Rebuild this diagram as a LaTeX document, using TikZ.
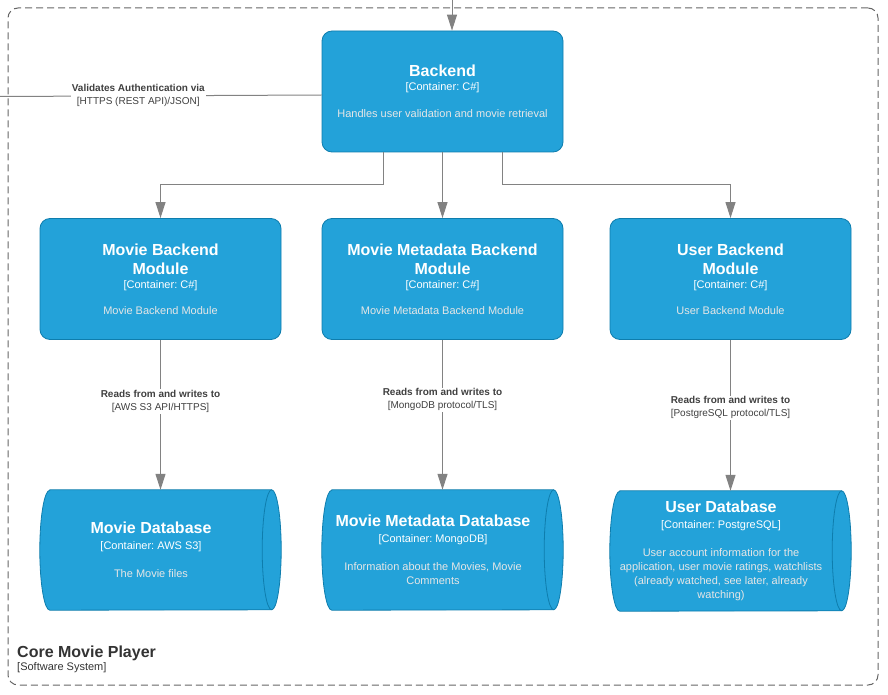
\documentclass[tikz,border=0pt]{standalone}
\usepackage{fontspec}
\setmainfont{Liberation Sans}
\usetikzlibrary{arrows.meta,backgrounds}
\frenchspacing
\definecolor{cfill}{HTML}{23A2D9}
\definecolor{cstroke}{HTML}{0E7DAD}
\definecolor{cdesc}{HTML}{E6E6E6}
\definecolor{relline}{HTML}{828282}
\definecolor{reltext}{HTML}{404040}
\definecolor{bound}{HTML}{666666}
\definecolor{boundtext}{HTML}{333333}
\newcommand\ctitle[1]{{\fontsize{16}{16}\selectfont\bfseries #1}}
\newcommand\dbcyl[1]{%
  \begin{scope}[on background layer]
    \filldraw[fill=cfill, draw=cstroke, line width=0.8pt]
      ([xshift=10pt]#1.north west) -- ([xshift=9.5pt]#1.north east)
      arc[start angle=90, end angle=-90, x radius=9.5pt, y radius=60pt]
      -- ([xshift=10pt]#1.south west)
      arc[start angle=270, end angle=90, x radius=10pt, y radius=60pt] -- cycle;
    \draw[cstroke, line width=0.8pt] ([xshift=9.5pt]#1.north east)
      arc[start angle=90, end angle=270, x radius=9.5pt, y radius=60pt];
  \end{scope}}
\begin{document}
\frenchspacing
\begin{tikzpicture}[x=1pt,y=-1pt,
  container/.style={draw=cstroke, fill=cfill, rounded corners=10pt, minimum width=241pt,
    minimum height=121pt, text=white, align=center, inner sep=0pt,
    font=\fontsize{11}{14}\selectfont\frenchspacing, line width=0.8pt},
  dbtext/.style={minimum width=222pt, minimum height=120pt, text=white, align=center,
    inner sep=0pt, font=\fontsize{11}{14}\selectfont\frenchspacing},
  rel/.style={draw=relline, line width=1pt, -{Triangle[width=10pt,length=16pt]}},
  relplain/.style={draw=relline, line width=1pt},
  rellabel/.style={fill=white, inner sep=1pt, text=reltext, align=center,
    font=\fontsize{10}{13}\selectfont\frenchspacing},
  boundary/.style={draw=bound, dash pattern=on 7pt off 4pt, rounded corners=10pt, line width=1pt},
]
\useasboundingbox (0,0) rectangle (888,695);

\node[boundary, minimum width=870pt, minimum height=677pt] (sys) at (443,346.5) {};
\node[anchor=north west, inner sep=0pt, align=left, text=boundtext,
  font=\fontsize{11}{13}\selectfont\frenchspacing] (syslabel) at (17,646)
  {\ctitle{Core Movie Player}\\{[Software System]}};

\node[container] (backend) at (442.5,91.5)
  {\ctitle{Backend}\\{[Container: C\#]}\\[12.5pt]{\color{cdesc}Handles user validation and movie retrieval}};

\node[container] (mbm) at (160.5,279)
  {\ctitle{Movie Backend}\\[5pt]\ctitle{Module}\\{[Container: C\#]}\\[12pt]{\color{cdesc}Movie Backend Module}};
\node[container] (mmbm) at (442.5,279)
  {\ctitle{Movie Metadata Backend}\\[5pt]\ctitle{Module}\\{[Container: C\#]}\\[12pt]{\color{cdesc}Movie Metadata Backend Module}};
\node[container] (ubm) at (730.5,279)
  {\ctitle{User Backend}\\[5pt]\ctitle{Module}\\{[Container: C\#]}\\[12pt]{\color{cdesc}User Backend Module}};

\node[dbtext] (moviedb) at (151,550)
  {\ctitle{Movie Database}\\[2pt]{[Container: AWS S3]}\\[14pt]{\color{cdesc}The Movie files}};
\node[dbtext] (metadb) at (433,550)
  {\ctitle{Movie Metadata Database}\\[2pt]{[Container: MongoDB]}\\[14pt]{\color{cdesc}Information about the Movies, Movie}\\{\color{cdesc}Comments}};
\node[dbtext] (userdb) at (721,551)
  {\ctitle{User Database}\\[2pt]{[Container: PostgreSQL]}\\[14pt]{\color{cdesc}User account information for the}\\{\color{cdesc}application, user movie ratings, watchlists}\\{\color{cdesc}(already watched, see later, already}\\{\color{cdesc}watching)}};
\dbcyl{moviedb}
\dbcyl{metadb}
\dbcyl{userdb}

\coordinate (topin) at (452,0);
\draw[rel] (topin) -- (topin |- backend.north);

\coordinate (leftout) at (0,96.5);
\draw[relplain] ([yshift=-3.5pt]backend.west) -- node[rellabel,pos=0.57]
  {\textbf{Validates Authentication via}\\{[HTTPS (REST API)/JSON]}} (leftout);

\draw[rel] ([xshift=-59.5pt]backend.south) -- ++(0,32) -| (mbm.north);
\draw[rel] (backend.south) -- (mmbm.north);
\draw[rel] ([xshift=59.5pt]backend.south) -- ++(0,32) -| (ubm.north);

\draw[rel] (mbm.south) -- node[rellabel,pos=0.41]
  {\textbf{Reads from and writes to}\\{[AWS S3 API/HTTPS]}} (mbm.south |- moviedb.north);
\draw[rel] (mmbm.south) -- node[rellabel,pos=0.40]
  {\textbf{Reads from and writes to}\\{[MongoDB protocol/TLS]}} (mmbm.south |- metadb.north);
\draw[rel] (ubm.south) -- node[rellabel,pos=0.45]
  {\textbf{Reads from and writes to}\\{[PostgreSQL protocol/TLS]}} (ubm.south |- userdb.north);
\end{tikzpicture}
\end{document}
